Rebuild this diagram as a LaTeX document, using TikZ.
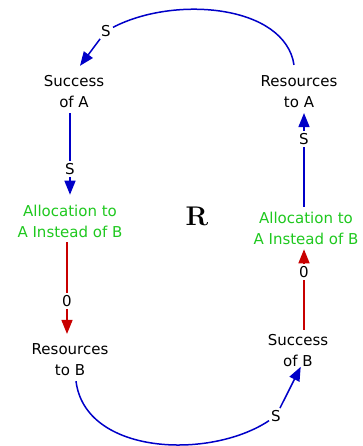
\documentclass[tikz,border=0pt]{standalone}
\usepackage{fontspec}
\usetikzlibrary{arrows.meta}
\newfontfamily\loopfont{DejaVu Sans}
\definecolor{loopblue}{RGB}{0,0,200}
\definecolor{loopred}{RGB}{200,0,0}
\definecolor{loopgreen}{RGB}{30,200,30}
\tikzset{
	var/.style={font=\loopfont\fontsize{15}{21}\selectfont, align=center, inner sep=3pt, outer sep=2pt},
	sign/.style={font=\loopfont\fontsize{15}{18}\selectfont, inner sep=2pt},
	link/.style={line width=1.5pt},
	arrowed/.style={-{Triangle[length=14pt,width=11pt]}}
}

\begin{document}
\begin{tikzpicture}[x=1pt,y=-1pt]
		\useasboundingbox (0,0) rectangle (362,446);
		%%%%% START %%%%%
		
		\node[var] (sucA) at (74,92) {Success\\of A};
		\node[var] (resA) at (299,92) {Resources\\to A};
		\node[var, text=loopgreen] (allocA) at (70,221) {Allocation to\\A Instead of B};
		\node[var, text=loopgreen] (allocB) at (306,228) {Allocation to\\A Instead of B};
		\node[var] (resB) at (70,360) {Resources\\to B};
		\node[var] (sucB) at (298,351) {Success\\of B};
		
		\node[font=\bfseries\fontsize{27}{27}\selectfont] (loop) at (197,216) {R};
		
		\node[sign] (s1) at (106,31) {S};
		\node[sign] (s2) at (70,169) {S};
		\node[sign] (o1) at (67,301) {0};
		\node[sign] (s3) at (304,139) {S};
		\node[sign] (o2) at (304,272) {0};
		\node[sign] (s4) at (276,416) {S};
		
		\draw[link, loopblue] ([xshift=-5pt,yshift=6pt]resA.north) .. controls (285,5) and (175,-5) .. (s1);
		\draw[link, loopblue, arrowed] (s1) -- ([xshift=6pt,yshift=5pt]sucA.north);
		
		\draw[link, loopblue] (s2 |- sucA.south) -- (s2);
		\draw[link, loopblue, arrowed, shorten >=5pt] (s2) -- (s2 |- allocA.north);
		
		\draw[link, loopred] (o1 |- allocA.south) -- (o1);
		\draw[link, loopred, arrowed, shorten >=5pt] (o1) -- (o1 |- resB.north);
		
		\draw[link, loopblue] ([xshift=6pt]resB.south) .. controls (85,455) and (210,460) .. (s4);
		\draw[link, loopblue, arrowed, shorten >=-6pt] (s4) -- (sucB.south);
		
		\draw[link, loopred] (o2 |- sucB.north) -- (o2);
		\draw[link, loopred, arrowed] (o2) -- (o2 |- allocB.south);
		
		\draw[link, loopblue] (s3 |- allocB.north) -- (s3);
		\draw[link, loopblue, arrowed] (s3) -- (s3 |- resA.south);
		
		%%%%% END %%%%%
	\end{tikzpicture}
\end{document}
